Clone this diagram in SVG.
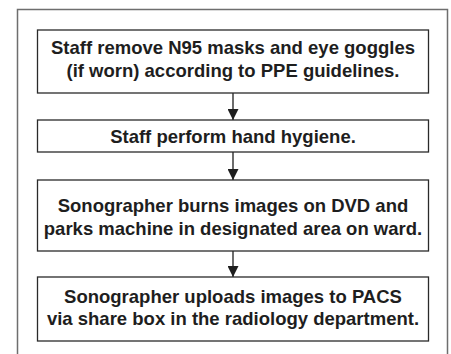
<svg xmlns="http://www.w3.org/2000/svg" width="451" height="354" viewBox="0 0 451 354">
<defs>
<style>
.frame{fill:none;stroke:#6e6e6e;stroke-width:1.5}
.box{fill:#fff;stroke:#2a2a2a;stroke-width:1.3}
.t{font-family:"Liberation Sans",Arial,Helvetica,sans-serif;font-weight:bold;font-size:18.5px;fill:#1e1e1e;text-anchor:middle}
.edge{stroke:#1e1e1e;stroke-width:1.3;fill:none}
</style>
<marker id="ah" markerWidth="11" markerHeight="11" refX="11" refY="5.5" orient="auto" markerUnits="userSpaceOnUse">
<path d="M0,0 L11,5.5 L0,11 Z" fill="#1e1e1e"/>
</marker>
</defs>
<rect width="451" height="354" fill="#fff"/>
<path class="frame" d="M17.5,356 V9.5 H447.5 V356"/>
<g id="connectors">
<line class="edge" x1="233" y1="93" x2="233" y2="120" marker-end="url(#ah)"/>
<line class="edge" x1="233" y1="152" x2="233" y2="180" marker-end="url(#ah)"/>
<line class="edge" x1="233" y1="251" x2="233" y2="277" marker-end="url(#ah)"/>
</g>
<g id="n1">
<rect class="box" x="37.5" y="30" width="391" height="63"/>
<text class="t" x="233" y="54">Staff remove N95 masks and eye goggles</text>
<text class="t" x="233" y="77">(if worn) according to PPE guidelines.</text>
</g>
<g id="n2">
<rect class="box" x="37.5" y="120" width="391" height="32"/>
<text class="t" x="233" y="143">Staff perform hand hygiene.</text>
</g>
<g id="n3">
<rect class="box" x="37.5" y="180" width="391" height="71"/>
<text class="t" x="233" y="212">Sonographer burns images on DVD and</text>
<text class="t" x="233" y="235">parks machine in designated area on ward.</text>
</g>
<g id="n4">
<rect class="box" x="37.5" y="277" width="391" height="64"/>
<text class="t" x="233" y="303">Sonographer uploads images to PACS</text>
<text class="t" x="233" y="325">via share box in the radiology department.</text>
</g>
</svg>
